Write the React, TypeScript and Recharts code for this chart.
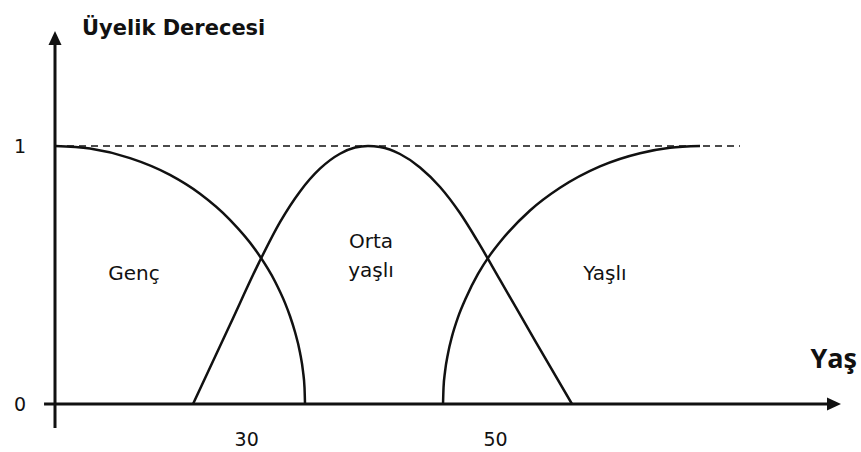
import React from 'react';
import { LineChart, Line, XAxis, YAxis, ReferenceLine } from 'recharts';

// Membership curves: age on x, degree of membership (0..1) on y
const gencData = [
  { age: 14.6, mu: 1.0 },
  { age: 17.41, mu: 0.99 },
  { age: 20.63, mu: 0.953 },
  { age: 23.84, mu: 0.888 },
  { age: 26.25, mu: 0.815 },
  { age: 28.66, mu: 0.714 },
  { age: 30.67, mu: 0.6 },
  { age: 32.28, mu: 0.475 },
  { age: 33.08, mu: 0.392 },
  { age: 33.48, mu: 0.341 },
  { age: 33.88, mu: 0.28 },
  { age: 34.29, mu: 0.199 },
  { age: 34.53, mu: 0.126 },
  { age: 34.65, mu: 0.063 },
  { age: 34.69, mu: 0.0 },
];

const ortaData = [
  { age: 25.69, mu: 0.0 },
  { age: 28.66, mu: 0.307 },
  { age: 30.99, mu: 0.548 },
  { age: 32.68, mu: 0.705 },
  { age: 34.29, mu: 0.824 },
  { age: 35.89, mu: 0.912 },
  { age: 37.5, mu: 0.97 },
  { age: 38.71, mu: 0.994 },
  { age: 39.75, mu: 1.0 },
  { age: 40.71, mu: 0.996 },
  { age: 42.32, mu: 0.969 },
  { age: 43.93, mu: 0.917 },
  { age: 45.54, mu: 0.841 },
  { age: 47.14, mu: 0.74 },
  { age: 48.51, mu: 0.635 },
  { age: 50.36, mu: 0.481 },
  { age: 53.17, mu: 0.246 },
  { age: 56.14, mu: 0.0 },
];

const yasliData = [
  { age: 45.78, mu: 0.0 },
  { age: 45.82, mu: 0.063 },
  { age: 45.94, mu: 0.125 },
  { age: 46.18, mu: 0.196 },
  { age: 46.5, mu: 0.262 },
  { age: 46.98, mu: 0.336 },
  { age: 47.63, mu: 0.412 },
  { age: 48.59, mu: 0.504 },
  { age: 49.55, mu: 0.577 },
  { age: 50.36, mu: 0.628 },
  { age: 52.77, mu: 0.75 },
  { age: 55.18, mu: 0.838 },
  { age: 58.39, mu: 0.921 },
  { age: 61.61, mu: 0.972 },
  { age: 64.02, mu: 0.993 },
  { age: 66.43, mu: 1.0 },
];

const xTicks = [30, 50];
const yTicks = [0, 1];

// Extents of the hand-drawn axes and the dashed full-membership guide
const xDomain: [number, number] = [14.6, 78];
const yDomain: [number, number] = [0, 1.5];
const xAxisStart = 13.72;
const xAxisEnd = 77.76;
const yAxisStart = -0.093;
const yAxisEnd = 1.446;
const guideEnd = 69.64;

const ink = '#111';
const font = 'DejaVu Sans';

// Straight line that ends in a filled arrowhead at (x2, y2)
function ArrowLine(props: any) {
  const { x1, y1, x2, y2 } = props;
  const len = 14;
  const half = 6.5;
  const dx = x2 - x1;
  const dy = y2 - y1;
  const d = Math.hypot(dx, dy) || 1;
  const ux = dx / d;
  const uy = dy / d;
  const bx = x2 - ux * len;
  const by = y2 - uy * len;
  const px = -uy;
  const py = ux;
  return (
    <g>
      <line x1={x1} y1={y1} x2={bx + ux} y2={by + uy} stroke={ink} strokeWidth={3} />
      <polygon
        points={`${x2},${y2} ${bx + px * half},${by + py * half} ${bx - px * half},${by - py * half}`}
        fill={ink}
      />
    </g>
  );
}

export default function App() {
  return (
    <div style={{ position: 'absolute', left: 0, top: 0, width: 861, height: 452, background: '#fff' }}>
      <LineChart width={861} height={452} margin={{ top: 17, right: 17, bottom: 0, left: 0 }}>
        <XAxis
          type="number"
          dataKey="age"
          domain={xDomain}
          ticks={xTicks}
          allowDataOverflow
          axisLine={false}
          tickLine={false}
          tickMargin={23}
          height={48}
          tick={{ fontFamily: font, fontSize: 19, fill: ink }}
        />
        <YAxis
          type="number"
          domain={yDomain}
          ticks={yTicks}
          allowDataOverflow
          axisLine={false}
          tickLine={false}
          tickMargin={23}
          width={55}
          tick={{ fontFamily: font, fontSize: 19, fill: ink }}
        />
        <ReferenceLine
          segment={[{ x: xDomain[0], y: 1 }, { x: guideEnd, y: 1 }]}
          stroke={ink}
          strokeWidth={1.5}
          strokeDasharray="7 5"
          ifOverflow="visible"
        />
        <Line data={gencData} dataKey="mu" type="monotone" stroke={ink} strokeWidth={2.5} dot={false} isAnimationActive={false} />
        <Line data={ortaData} dataKey="mu" type="monotone" stroke={ink} strokeWidth={2.5} dot={false} isAnimationActive={false} />
        <Line data={yasliData} dataKey="mu" type="monotone" stroke={ink} strokeWidth={2.5} dot={false} isAnimationActive={false} />
        <ReferenceLine
          segment={[{ x: xAxisStart, y: 0 }, { x: xAxisEnd, y: 0 }]}
          ifOverflow="visible"
          shape={ArrowLine}
        />
        <ReferenceLine
          segment={[{ x: xDomain[0], y: yAxisStart }, { x: xDomain[0], y: yAxisEnd }]}
          ifOverflow="visible"
          shape={ArrowLine}
        />
        <text x={82} y={35} fontFamily={font} fontWeight="bold" fontSize={21} fill={ink}>
          Üyelik Derecesi
        </text>
        <text x={857} y={368} textAnchor="end" fontFamily="Open Sans" fontWeight="bold" fontSize={27} fill={ink}>
          Yaş
        </text>
        <text x={134} y={280} textAnchor="middle" fontFamily={font} fontSize={20} fill={ink}>
          Genç
        </text>
        <text x={371} y={248} textAnchor="middle" fontFamily={font} fontSize={20} fill={ink}>
          Orta
        </text>
        <text x={371} y={277} textAnchor="middle" fontFamily={font} fontSize={20} fill={ink}>
          yaşlı
        </text>
        <text x={605} y={280} textAnchor="middle" fontFamily={font} fontSize={20} fill={ink}>
          Yaşlı
        </text>
      </LineChart>
    </div>
  );
}
